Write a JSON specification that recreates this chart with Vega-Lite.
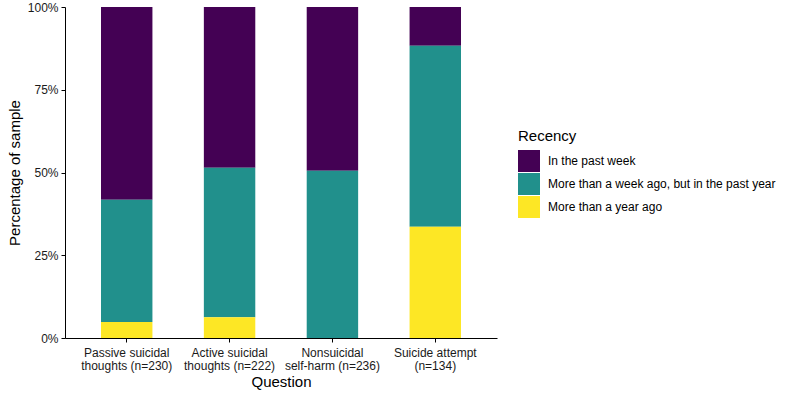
{
  "$schema": "https://vega.github.io/schema/vega-lite/v6.json",
  "width": 432,
  "height": 331,
  "autosize": {"type": "none"},
  "padding": {"left": 65, "top": 7, "right": 295, "bottom": 58},
  "background": "white",
  "config": {
    "font": "Liberation Sans",
    "view": {"stroke": null},
    "axis": {
      "domainColor": "black",
      "tickColor": "black",
      "tickSize": 4,
      "labelColor": "#1a1a1a",
      "labelFontSize": 12,
      "titleFontSize": 15,
      "titleFontWeight": "normal",
      "titleColor": "black",
      "grid": false
    }
  },
  "data": {
    "values": [
      {"Question": "Passive suicidal|thoughts (n=230)", "Recency": "In the past week", "share": 0.582},
      {"Question": "Passive suicidal|thoughts (n=230)", "Recency": "More than a week ago, but in the past year", "share": 0.370},
      {"Question": "Passive suicidal|thoughts (n=230)", "Recency": "More than a year ago", "share": 0.048},
      {"Question": "Active suicidal|thoughts (n=222)", "Recency": "In the past week", "share": 0.486},
      {"Question": "Active suicidal|thoughts (n=222)", "Recency": "More than a week ago, but in the past year", "share": 0.451},
      {"Question": "Active suicidal|thoughts (n=222)", "Recency": "More than a year ago", "share": 0.063},
      {"Question": "Nonsuicidal|self-harm (n=236)", "Recency": "In the past week", "share": 0.495},
      {"Question": "Nonsuicidal|self-harm (n=236)", "Recency": "More than a week ago, but in the past year", "share": 0.505},
      {"Question": "Nonsuicidal|self-harm (n=236)", "Recency": "More than a year ago", "share": 0.0},
      {"Question": "Suicide attempt|(n=134)", "Recency": "In the past week", "share": 0.117},
      {"Question": "Suicide attempt|(n=134)", "Recency": "More than a week ago, but in the past year", "share": 0.547},
      {"Question": "Suicide attempt|(n=134)", "Recency": "More than a year ago", "share": 0.336}
    ]
  },
  "mark": {"type": "bar"},
  "encoding": {
    "x": {
      "field": "Question",
      "type": "nominal",
      "sort": null,
      "scale": {"paddingInner": 0.5, "paddingOuter": 0.35},
      "axis": {
        "title": "Question",
        "labelAngle": 0,
        "labelExpr": "split(datum.label, '|')",
        "labelLineHeight": 13,
        "labelPadding": 5,
        "titlePadding": 3
      }
    },
    "y": {
      "field": "share",
      "type": "quantitative",
      "stack": "zero",
      "scale": {"domain": [0, 1], "nice": false},
      "axis": {
        "title": "Percentage of sample",
        "values": [0, 0.25, 0.5, 0.75, 1],
        "format": ".0%",
        "labelPadding": 3,
        "titlePadding": 5
      }
    },
    "color": {
      "field": "Recency",
      "type": "nominal",
      "scale": {
        "domain": ["In the past week", "More than a week ago, but in the past year", "More than a year ago"],
        "range": ["#440154", "#21908C", "#FDE725"]
      },
      "legend": {
        "title": "Recency",
        "orient": "none",
        "legendX": 453,
        "legendY": 122,
        "titleFontSize": 15,
        "titleFontWeight": "normal",
        "titleColor": "black",
        "titlePadding": 6,
        "symbolType": "square",
        "symbolSize": 484,
        "symbolStrokeWidth": 0,
        "symbolOpacity": 1,
        "labelFontSize": 12,
        "labelColor": "black",
        "labelOffset": 8,
        "rowPadding": 1,
        "labelLimit": 300
      }
    },
    "order": {"field": "Recency", "sort": "descending"}
  }
}
